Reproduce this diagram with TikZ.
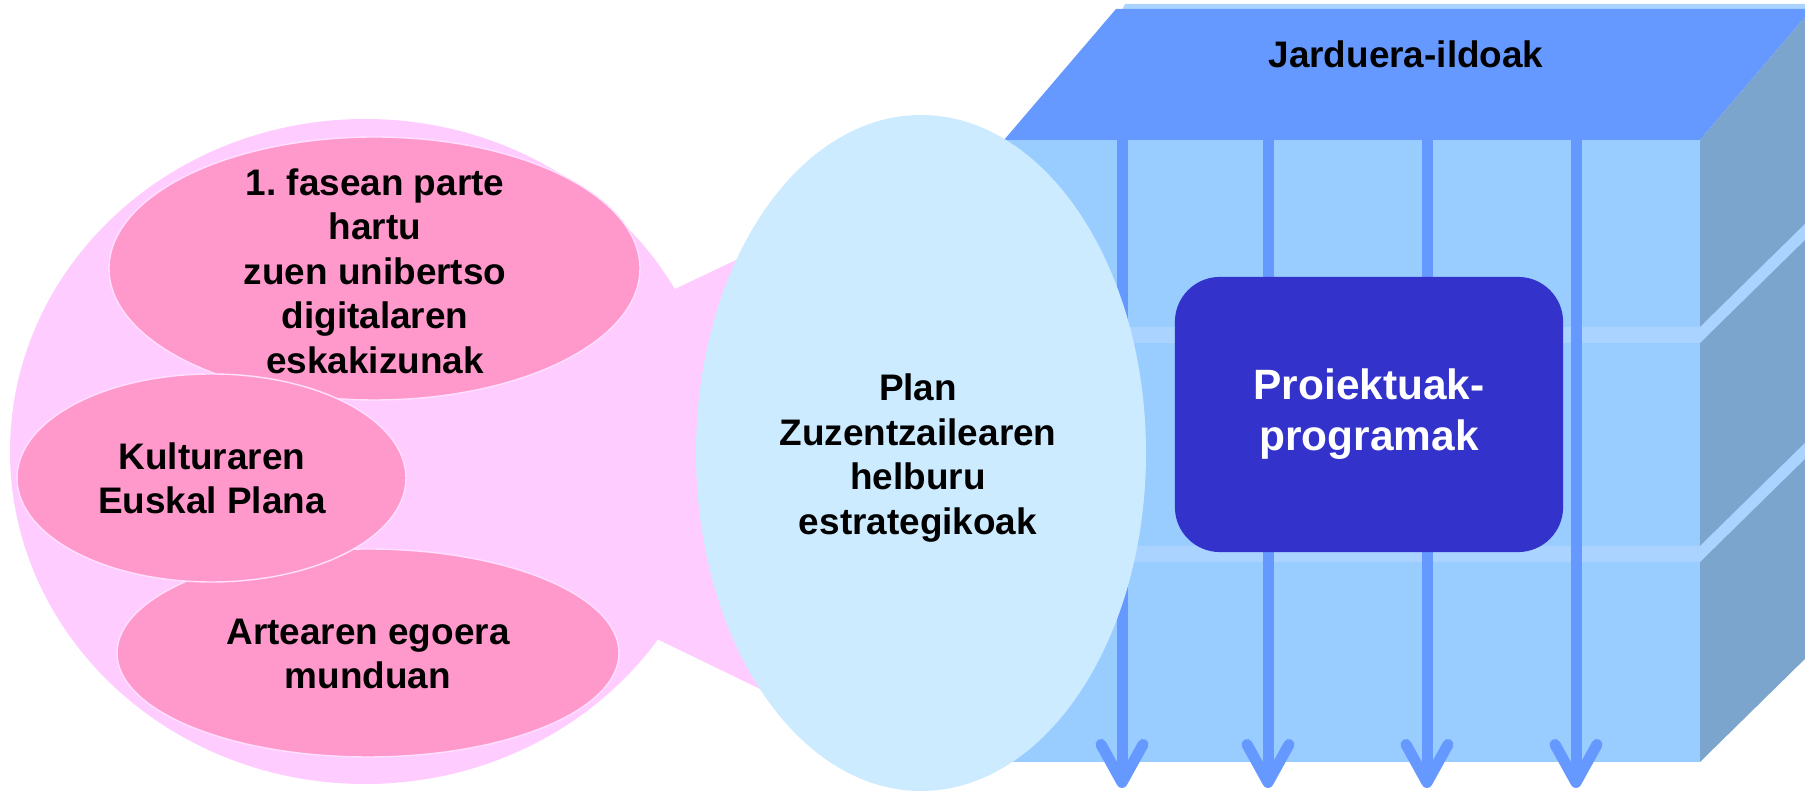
\documentclass[tikz,border=0pt]{standalone}
\usepackage{fontspec}
\setmainfont{Liberation Sans}
\usetikzlibrary{arrows.meta}
\definecolor{lila}{HTML}{FFCCFF}
\definecolor{arrosa}{HTML}{FF99CC}
\definecolor{zerua}{HTML}{CCEBFF}
\definecolor{goia}{HTML}{6699FF}
\definecolor{aurrea}{HTML}{99CCFF}
\definecolor{alboa}{HTML}{7BA5CC}
\definecolor{marra}{HTML}{AAD4FF}
\definecolor{urdina}{HTML}{3333CC}
\frenchspacing

\begin{document}
\begin{tikzpicture}[x=0.01cm,y=-0.01cm,
        testua/.style={align=center,inner sep=0pt,font=\bfseries\fontsize{10.5pt}{12.66pt}\selectfont},
        gorri/.style={fill=arrosa,draw=lila!60!white,line width=0.4pt},
        ildo/.style={goia,line width=0.11cm,-{Straight Barb[length=0.38cm,width=0.42cm,round]}}]
        \clip (0,0) rectangle (1805,792);
        % kuboa
        \fill[marra] (1125,4) -- (1812,4) -- (1812,10) -- (1122,10) -- cycle;
        \fill[goia] (1004,140) -- (1116,9) -- (1812,9) -- (1700,140) -- cycle;
        \fill[aurrea] (1004,140) rectangle (1700,762);
        \fill[alboa] (1700,140) -- (1812,9) -- (1812,652) -- (1700,762) -- cycle;
        \foreach \y in {327,546}
            \fill[marra] (1004,\y) -- (1700,\y) -- (1812,{\y-110}) -- (1812,{\y-94}) -- (1700,{\y+16}) -- (1004,{\y+16}) -- cycle;
        \foreach \x [count=\i] in {1122,1268,1427,1576} {
            \coordinate (goi\i) at (\x,140);
            \coordinate (behe\i) at (\x,788);
            \draw[ildo] (goi\i) -- (behe\i);
        }
        \node[testua] (ildoak) at (1406,54) {Jarduera-ildoak};
        \node[testua,fill=urdina,text=white,rounded corners=0.45cm,minimum width=3.88cm,minimum height=2.75cm,
            font=\bfseries\fontsize{12.06pt}{14.5pt}\selectfont] (proiektu) at (1369,414.5) {Proiektuak-\\programak};
        % ezkerreko aldea
        \fill[lila] (365,451.5) ellipse [x radius=355, y radius=332.5];
        \fill[lila] (560,343.6) -- (850,205.8) -- (850,732.6) -- (560,592) -- cycle;
        \path[gorri] (374.5,268.5) ellipse [x radius=265.5, y radius=131.5];
        \path[gorri] (368,653) ellipse [x radius=251, y radius=104];
        \path[gorri] (211.5,478) ellipse [x radius=194.5, y radius=104];
        \node[testua] (fasea) at (375,271) {1. fasean parte\\hartu\\zuen unibertso\\digitalaren\\eskakizunak};
        \node[testua] (kultura) at (212,478.5) {Kulturaren\\Euskal Plana};
        \node[testua] (artea) at (368,654) {Artearen egoera\\munduan};
        \fill[zerua] (921,453) ellipse [x radius=225, y radius=338];
        \node[testua] (plana) at (918,458) {Plan\\Zuzentzailearen\\helburu\\estrategikoak};
\end{tikzpicture}
\end{document}
